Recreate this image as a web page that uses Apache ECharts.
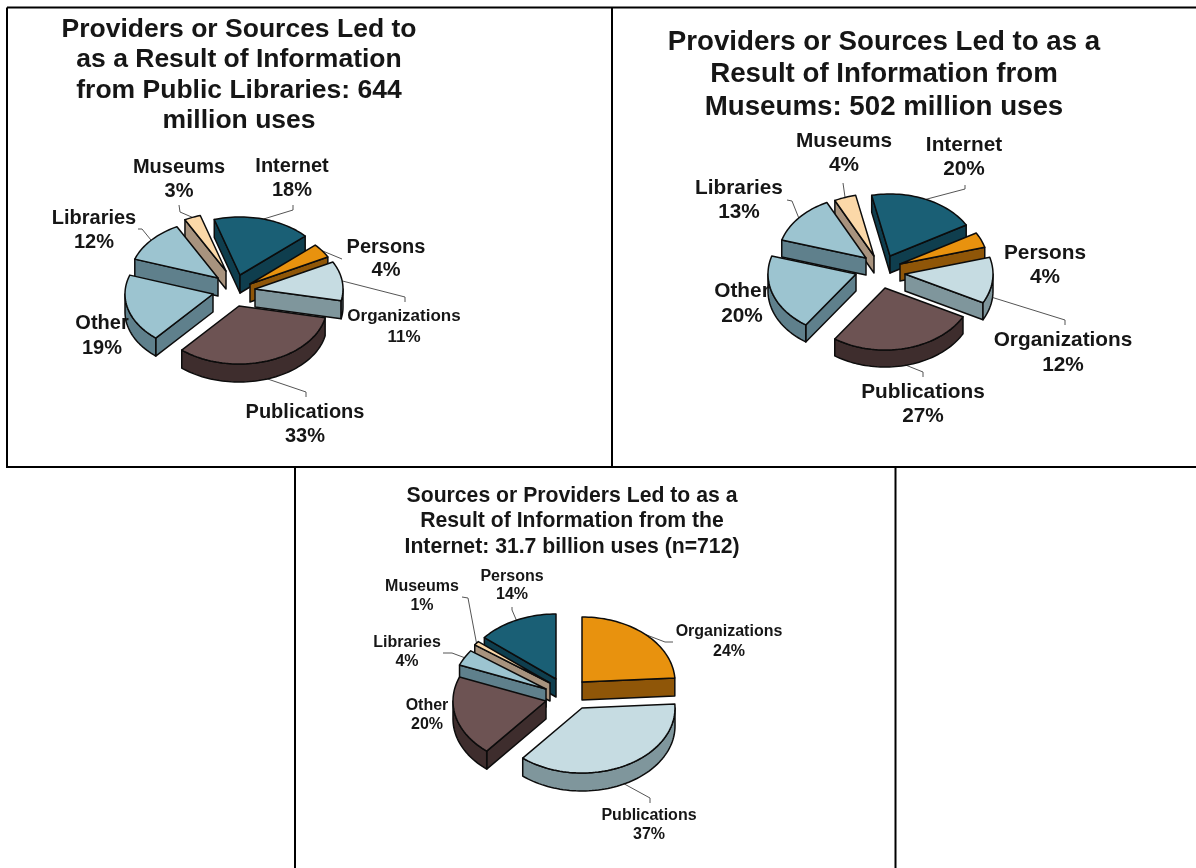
<!DOCTYPE html>
<html>
<head>
<meta charset="utf-8">
<style>
    html, body { margin: 0; padding: 0; background: #fff; }
    #chart { width: 1196px; height: 868px; }
</style>
<script src="https://cdn.jsdelivr.net/npm/echarts@6/dist/echarts.min.js"></script>
</head>
<body>
<div id="chart"></div>
<script>
// values, clockwise from the start angle
const librariesNames = ["Internet", "Persons", "Organizations", "Publications", "Other", "Libraries", "Museums"]
const librariesValues = [18, 4, 11, 33, 19, 12, 3]
const librariesTitle = ["Providers or Sources Led to", "as a Result of Information", "from Public Libraries: 644", "million uses"]

const museumsNames = ["Internet", "Persons", "Organizations", "Publications", "Other", "Libraries", "Museums"]
const museumsValues = [20, 4, 12, 27, 20, 13, 4]
const museumsTitle = ["Providers or Sources Led to as a", "Result of Information from", "Museums: 502 million uses"]

const internetNames = ["Organizations", "Publications", "Other", "Libraries", "Museums", "Persons"]
const internetValues = [24, 37, 20, 4, 1, 14]
const internetTitle = ["Sources or Providers Led to as a", "Result of Information from the", "Internet: 31.7 billion uses (n=712)"]

const FONT = '"Liberation Sans", Arial, sans-serif'

// top face / side face
const TEAL = ["#1a5f75", "#0f3e4e"]
const ORANGE = ["#e8920e", "#8f5608"]
const PALE = ["#c6dce2", "#7f969c"]
const BROWN = ["#6d5353", "#3e2d2d"]
const BLUE = ["#9cc4d0", "#5f808c"]
const BEIGE = ["#fbd8a8", "#a8937e"]

const pieStyles = [
    {
        names: librariesNames,
        values: librariesValues,
        title: librariesTitle,
        titleX: 239, titleY: 14, titleSize: 26.5, titleLine: 30.5,
        cx: 235, cy: 287, rx: 88, ry: 58, depth: 18, start: -17,
        labelSize: 20,
        colors: [TEAL, ORANGE, PALE, BROWN, BLUE, BLUE, BEIGE],
        // how far each slice is pulled out of the pie
        explode: [[5, -12], [15, -3], [20, 2], [4, 19], [-22, 7], [-17, -9], [-9, -16]],
        // label centre [x, first line y, second line y], font size override
        labels: [[292, 166, 190], [386, 247, 270], [404, 316, 337, 17], [305, 412, 436], [102, 323, 348], [94, 218, 242], [179, 167, 191]],
        leaders: [[[293, 210], [293, 205]], [[342, 259]], [[405, 297], [405, 302]], [[306, 392], [306, 397]], null, [[142, 229], [138, 229]], [[180, 212], [179, 205]]],
    },
    {
        names: museumsNames,
        values: museumsValues,
        title: museumsTitle,
        titleX: 884, titleY: 26, titleSize: 27.7, titleLine: 32.5,
        cx: 883, cy: 268, rx: 88, ry: 62, depth: 17, start: -12,
        labelSize: 20.8,
        colors: [TEAL, ORANGE, PALE, BROWN, BLUE, BLUE, BEIGE],
        explode: [[7, -12], [17, -4], [22, 6], [2, 20], [-27, 6], [-17, -10], [-9, -12]],
        labels: [[964, 145, 169], [1045, 253, 277], [1063, 340, 365], [923, 392, 416], [742, 291, 316], [739, 188, 212], [844, 141, 165]],
        leaders: [[[965, 189], [965, 185]], null, [[1065, 320], [1065, 325]], [[923, 372], [923, 377]], null, [[792, 201], [787, 200]], [[843, 183]]],
    },
    {
        names: internetNames,
        values: internetValues,
        title: internetTitle,
        titleX: 572, titleY: 483, titleSize: 21.2, titleLine: 25.5,
        cx: 564, cy: 692, rx: 93, ry: 65, depth: 18, start: 0,
        labelSize: 16,
        colors: [ORANGE, PALE, BROWN, BLUE, BEIGE, TEAL],
        explode: [[18, -10], [18, 16], [-18, 9], [-18, -3], [-14, -9], [-8, -13]],
        labels: [[729, 632, 652], [649, 816, 835], [427, 706, 725], [407, 643, 662], [422, 587, 606], [512, 577, 595]],
        leaders: [[[665, 642], [673, 642]], [[650, 798], [650, 803]], null, [[452, 653], [443, 653]], [[468, 598], [462, 597]], [[512, 610], [512, 607]]],
    },
]

const toRad = d => (d * Math.PI) / 180

function point(pie, ox, oy, deg, drop) {
    return [ox + pie.rx * Math.sin(toRad(deg)), oy - pie.ry * Math.cos(toRad(deg)) + (drop || 0)]
}

function arc(pie, ox, oy, from, to, drop) {
    const pts = []
    const steps = Math.max(2, Math.ceil(Math.abs(to - from) / 2))
    for (let i = 0; i <= steps; i++) {
        pts.push(point(pie, ox, oy, from + ((to - from) * i) / steps, drop))
    }
    return pts
}

// turn values into angles, and work out which slice sits in front of which
function buildSlices(pie) {
    const total = pie.values.reduce((a, b) => a + b, 0)
    let angle = pie.start
    const slices = pie.values.map((v, i) => {
        const from = angle
        const to = angle + (v / total) * 360
        angle = to
        const mid = (from + to) / 2
        const ox = pie.cx + pie.explode[i][0]
        const oy = pie.cy + pie.explode[i][1]
        return { i, from, to, mid, ox, oy, sortY: oy - (pie.ry / 2) * Math.cos(toRad(mid)) }
    })
    const order = slices.slice().sort((a, b) => a.sortY - b.sortY)
    order.forEach((s, rank) => {
        s.rank = rank
    })
    return slices
}

function sliceChildren(pie, s) {
    const z = 10 + s.rank * 5
    const [top, side] = pie.colors[s.i]
    const line = { stroke: "#0c0c0c", lineWidth: 1.5, lineJoin: "round" }
    const d = pie.depth
    const children = []

    // radial walls, only the ones turned towards the viewer
    const wall = deg => {
        const e = point(pie, s.ox, s.oy, deg)
        children.push({
            type: "polygon",
            z2: z,
            shape: { points: [[s.ox, s.oy], e, [e[0], e[1] + d], [s.ox, s.oy + d]] },
            style: { fill: side, ...line },
        })
    }
    if (Math.sin(toRad(s.from)) < 0) wall(s.from)
    if (Math.sin(toRad(s.to)) > 0) wall(s.to)

    // outer wall, front half of the rim
    const a = Math.max(s.from, 90)
    const b = Math.min(s.to, 270)
    if (b > a) {
        const upper = arc(pie, s.ox, s.oy, a, b)
        const lower = arc(pie, s.ox, s.oy, b, a, d)
        children.push({
            type: "polygon",
            z2: z + 1,
            shape: { points: upper.concat(lower) },
            style: { fill: side, ...line },
        })
    }

    children.push({
        type: "polygon",
        z2: z + 2,
        shape: { points: [[s.ox, s.oy]].concat(arc(pie, s.ox, s.oy, s.from, s.to)) },
        style: { fill: top, ...line },
    })

    // leader line from the rim to the label
    const leader = pie.leaders[s.i]
    if (leader) {
        const front = Math.cos(toRad(s.mid)) < 0
        const from = point(pie, s.ox, s.oy, s.mid, front ? d : 0)
        children.push({
            type: "polyline",
            z2: 1,
            shape: { points: [from].concat(leader) },
            style: { fill: "none", stroke: "#555", lineWidth: 1 },
        })
    }

    // label
    const lab = pie.labels[s.i]
    const size = lab[3] || pie.labelSize
    const texts = [pie.names[s.i], pie.values[s.i] + "%"]
    texts.forEach((t, k) => {
        children.push({
            type: "text",
            z2: 100,
            style: {
                text: t,
                x: lab[0],
                y: lab[k + 1],
                align: "center",
                verticalAlign: "middle",
                font: `bold ${size}px ${FONT}`,
                fill: "#161616",
            },
        })
    })
    return children
}

const series = pieStyles.map(pie => {
    const slices = buildSlices(pie)
    return {
        type: "custom",
        coordinateSystem: "none",
        silent: true,
        animation: false,
        data: pie.values,
        renderItem: params => ({
            type: "group",
            children: sliceChildren(pie, slices[params.dataIndex]),
        }),
    }
})

const titles = pieStyles.map(pie => ({
    text: pie.title.join("\n"),
    left: pie.titleX,
    top: pie.titleY,
    textAlign: "center",
    padding: 0,
    textStyle: {
        fontFamily: FONT,
        fontWeight: "bold",
        fontSize: pie.titleSize,
        lineHeight: pie.titleLine,
        color: "#161616",
    },
}))

// frame lines round the three panels
const frame = [
    [[7, 7.5], [1196, 7.5]],
    [[7, 7.5], [7, 467]],
    [[612, 7.5], [612, 467]],
    [[6, 467], [1196, 467]],
    [[295, 467], [295, 868]],
    [[895.5, 467], [895.5, 868]],
]

const myChart = echarts.init(document.getElementById("chart"))
myChart.setOption({
    backgroundColor: "#fff",
    animation: false,
    title: titles,
    graphic: frame.map(f => ({
        type: "polyline",
        silent: true,
        shape: { points: f },
        style: { fill: "none", stroke: "#000", lineWidth: 2 },
    })),
    series,
})
</script>
</body>
</html>
